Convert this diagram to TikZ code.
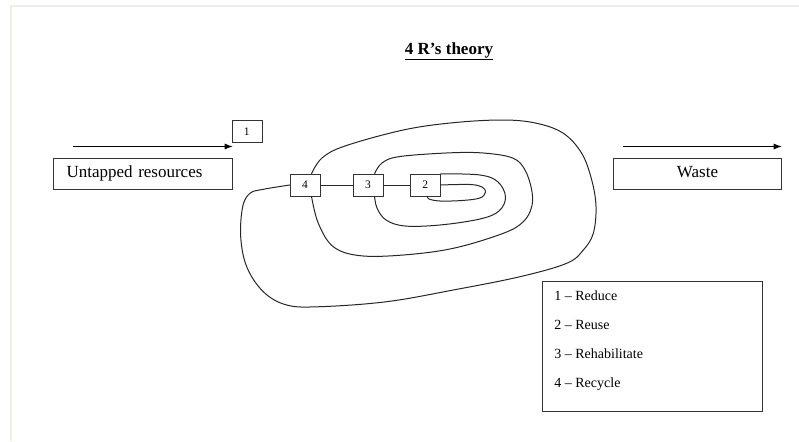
\documentclass[tikz,border=0pt]{standalone}
\usepackage{fontspec}
\setmainfont{Liberation Serif}
\usetikzlibrary{arrows.meta,positioning}
\definecolor{framecol}{HTML}{EEEEE4}
\definecolor{boxcol}{HTML}{333333}

\begin{document}
\begin{tikzpicture}[
  x=1pt, y=-1pt, >={Latex[length=8pt,width=6pt]},
  numbox/.style={draw=boxcol, fill=white, minimum width=30pt, minimum height=22pt,
                 inner sep=0pt, font=\fontsize{11.5}{13}\selectfont},
  stage/.style={draw=boxcol, minimum height=31.6pt, text width=153pt, inner xsep=13pt,
                align=left, text height=11.5pt, text depth=3.7pt,
                font=\fontsize{17}{19}\selectfont},
  keybox/.style={draw=boxcol, line width=1pt, minimum width=220pt, minimum height=130pt},
  keytext/.style={align=left, inner sep=0pt, font=\fontsize{14}{29.2}\selectfont},
  flow/.style={->, line width=0.9pt},
  spiral/.style={line width=1pt, black!85}
]
\useasboundingbox (0,0) rectangle (799,441);
\draw[framecol, line width=1.6pt] (10.8,441) -- (10.8,5.8) -- (799,5.8);

% title
\node[font=\fontsize{17}{19}\selectfont\bfseries] (title) at (449,51) {\underline{4 R’s theory}};

% input and output
\node[stage] (source) at (143,173.5) {Untapped resources};
\node[stage, text width=142pt, align=center] (waste) at (697.5,173.5) {Waste};
\draw[flow] ([xshift=20pt,yshift=11pt]source.north west) -- ([yshift=11pt]source.north east);
\draw[flow] ([xshift=9.4pt,yshift=11pt]waste.north west) -- ([yshift=11pt]waste.north east);
\node[numbox] (r1) at (246.7,131.5) {1};

% the spiral
\node[numbox] (r4) at (305,185) {4};
\node[numbox, right=32.7pt of r4] (r3) {3};
\node[numbox, right=26.7pt of r3] (r2) {2};
\draw[spiral] (r4) -- (r3);
\draw[spiral] (r3) -- (r2);
\draw[spiral] plot[smooth, tension=0.6] coordinates {(r2.east) (470,184.5) (482,187)
  (485.5,192) (480,198) (462,200.5) (440,201) (429,199) (r2.-80)};
\draw[spiral] plot[smooth, tension=0.6] coordinates {(r2.north east) (480,175) (498,182)
  (505.5,197) (499,211) (480,219) (440,225) (405,226) (386,220) (377,208) (r3.-60)};
\draw[spiral] plot[smooth, tension=0.6] coordinates {(r3.60) (382,163) (400,156.5)
  (453.3,152.7) (486.7,153.3) (513.3,158.3) (525,170) (531.7,190)
  (531.7,206.7) (523.3,221.7) (503.3,233.3) (453.3,248.3) (403.3,255) (360,255.7)
  (333.3,246.7) (318.3,223.3) (r4.-60)};
\draw[spiral] plot[smooth, tension=0.6] coordinates {(r4.60) (322,158)
  (345,146) (403.3,130) (453.3,122.7) (503.3,120) (536.7,123.3) (563.3,133.3)
  (581.7,153.3) (591.7,180) (596,206.7) (593.3,233.3) (583.3,250) (566.7,263.3)
  (520,276.7) (453.3,290) (386.7,301.7) (320,306.7) (286.7,305) (263.3,291.7)
  (246.7,266.7) (240.7,236.7) (242.7,206.7) (250,193.3) (263.3,189.3) (r4.west)};

% legend
\node[keybox] (key) at (652.7,346.7) {};
\node[keytext, below right=9pt and 12pt of key.north west] (keylist)
  {1 – Reduce\\2 – Reuse\\3 – Rehabilitate\\4 – Recycle};
\end{tikzpicture}
\end{document}
